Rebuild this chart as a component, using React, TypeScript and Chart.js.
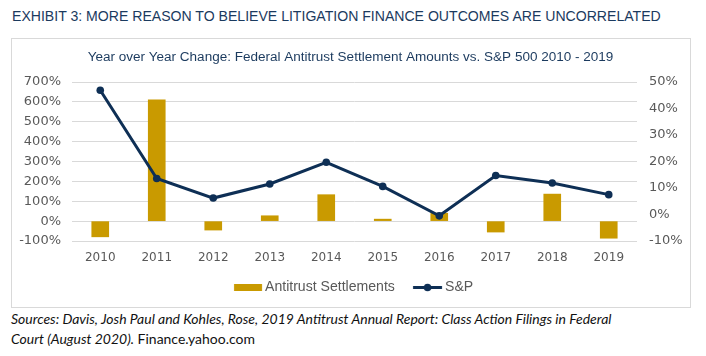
import React, { useEffect, useMemo, useRef } from "react";
import { Chart, registerables } from "chart.js";

Chart.register(...registerables);

// ---------------- data ----------------
const years = ["2010", "2011", "2012", "2013", "2014", "2015", "2016", "2017", "2018", "2019"];
const antitrustSettlements = [-79, 610, -45, 27, 133, 10, 40, -55, 136, -86];
const sp500 = [46.9, 13.6, 6.2, 11.5, 19.7, 10.6, -0.5, 14.7, 11.9, 7.5];
const leftAxisTicks = [-100, 0, 100, 200, 300, 400, 500, 600, 700];
const rightAxisTicks = [-10, 0, 10, 20, 30, 40, 50];
const seriesNames = ["Antitrust Settlements", "S&P"];
const headerText = "EXHIBIT 3: MORE REASON TO BELIEVE LITIGATION FINANCE OUTCOMES ARE UNCORRELATED";
const chartTitle = "Year over Year Change: Federal Antitrust Settlement Amounts vs. S&P 500 2010 - 2019";
const sourceLine1 = "Sources: Davis, Josh Paul and Kohles, Rose, 2019 Antitrust Annual Report: Class Action Filings in Federal";
const sourceLine2Italic = "Court (August 2020).";
const sourceLine2Plain = " Finance.yahoo.com";

// ---------------- styles ----------------
const GOLD = "#C99A00";
const NAVY = "#0E2F55";
const HEAD = "#1B3A5E";
const GREY = "#595959";
const GRID = "#D9D9D9";
const SANS = '"Liberation Sans", Arial, sans-serif';
const TICKF = '"DejaVu Sans", sans-serif';
const SRCF = 'Lato, "Open Sans", sans-serif';

const CW = 679;
const CH = 269;

let mctx: CanvasRenderingContext2D | null = null;
function ctx2d() {
  if (!mctx) mctx = document.createElement("canvas").getContext("2d");
  return mctx!;
}
function measure(text: string, font: string) {
  const c = ctx2d();
  c.font = font;
  return c.measureText(text);
}
function fitSize(text: string, family: string, target: number, style = "normal", weight = "normal") {
  const m = measure(text, `${style} ${weight} 100px ${family}`);
  return (100 * target) / m.width;
}

function PlacedText(props: {
  x: number;
  baseline: number;
  size: number;
  family: string;
  color: string;
  italic?: boolean;
  children: React.ReactNode;
}) {
  const { x, baseline, size, family, color, italic, children } = props;
  const m = measure("Hg", `${italic ? "italic" : "normal"} normal ${size}px ${family}`);
  const A = m.fontBoundingBoxAscent;
  const D = m.fontBoundingBoxDescent;
  return (
    <div
      style={{
        position: "absolute",
        left: x,
        top: baseline - A,
        fontFamily: family,
        fontSize: size,
        fontStyle: italic ? "italic" : "normal",
        lineHeight: `${A + D}px`,
        color,
        whiteSpace: "nowrap",
      }}
    >
      {children}
    </div>
  );
}

function makeIcon(kind: "bar" | "line", offset: number) {
  const half = Math.ceil(15 + Math.abs(offset) + 1);
  const c = document.createElement("canvas");
  c.width = half * 2;
  c.height = 10;
  const g = c.getContext("2d")!;
  const cx = half + offset;
  if (kind === "bar") {
    g.fillStyle = GOLD;
    g.fillRect(cx - 14, 2, 28, 7);
  } else {
    g.strokeStyle = NAVY;
    g.lineWidth = 3;
    g.beginPath();
    g.moveTo(cx - 14.5, 5.5);
    g.lineTo(cx + 14.5, 5.5);
    g.stroke();
    g.fillStyle = NAVY;
    g.beginPath();
    g.arc(cx, 5.5, 3.8, 0, Math.PI * 2);
    g.fill();
  }
  return c;
}

function ChartCanvas() {
  const ref = useRef<HTMLCanvasElement>(null);
  useEffect(() => {
    if (!ref.current) return;
    const titleSize = fitSize(chartTitle, SANS, 526);
    const titlePadTop = 19 - 0.6 * titleSize;
    const titlePadBottom = 44 - titlePadTop - 1.2 * titleSize;

    const legendFs = fitSize(seriesNames[0], SANS, 130);
    const T1 = measure(seriesNames[0], `normal normal ${legendFs}px ${SANS}`).width;
    const T2 = measure(seriesNames[1], `normal normal ${legendFs}px ${SANS}`).width;
    const text1X = 254;
    const text2X = 434;
    const P = CW - 2 * text1X - T1 - T2;
    const W = text2X - text1X - T1 - legendFs / 2 - P;
    const iconOffset = W / 2 + legendFs / 2 - 17;
    const barIcon = makeIcon("bar", iconOffset);
    const lineIcon = makeIcon("line", iconOffset - 0.5);

    const legendCenterY = 249;
    const xAxisH = legendCenterY - P - legendFs / 2 - 203;
    const legendH = legendFs + P + 10;
    const padBottom = CH - 203 - xAxisH - legendH;

    const chart = new Chart(ref.current, {
      type: "bar",
      data: {
        labels: years,
        datasets: [
          {
            type: "bar",
            label: seriesNames[0],
            data: antitrustSettlements,
            backgroundColor: GOLD,
            barThickness: 17,
            yAxisID: "y",
            order: 1,
          },
          {
            type: "line",
            label: seriesNames[1],
            data: sp500,
            borderColor: NAVY,
            backgroundColor: NAVY,
            borderWidth: 3,
            pointRadius: 3.8,
            pointBackgroundColor: NAVY,
            pointBorderColor: NAVY,
            pointBorderWidth: 0,
            tension: 0,
            yAxisID: "y1",
            order: 0,
          } as any,
        ],
      },
      options: {
        responsive: false,
        animation: false,
        devicePixelRatio: 1,
        events: [],
        layout: { padding: { left: 0, right: 0, top: 0, bottom: padBottom } },
        plugins: {
          title: {
            display: true,
            text: chartTitle,
            color: HEAD,
            font: { family: SANS, size: titleSize, weight: "normal" as any, lineHeight: 1.2 },
            padding: { top: titlePadTop, bottom: titlePadBottom },
          },
          legend: {
            display: true,
            position: "bottom",
            labels: {
              usePointStyle: true,
              pointStyleWidth: W,
              boxHeight: legendFs,
              padding: P,
              color: GREY,
              font: { family: SANS, size: legendFs },
              generateLabels: () => [
                {
                  text: seriesNames[0],
                  pointStyle: barIcon as any,
                  fillStyle: GOLD,
                  strokeStyle: GOLD,
                  lineWidth: 0,
                  hidden: false,
                  datasetIndex: 0,
                  fontColor: GREY,
                },
                {
                  text: seriesNames[1],
                  pointStyle: lineIcon as any,
                  fillStyle: NAVY,
                  strokeStyle: NAVY,
                  lineWidth: 0,
                  hidden: false,
                  datasetIndex: 1,
                  fontColor: GREY,
                },
              ],
            },
          },
          tooltip: { enabled: false },
        },
        scales: {
          x: {
            grid: { display: false, drawTicks: false },
            border: { display: false },
            ticks: { color: GREY, font: { family: TICKF, size: 12 }, padding: 10 },
            afterFit: (s: any) => {
              s.height = xAxisH;
            },
          },
          y: {
            position: "left",
            min: leftAxisTicks[0],
            max: leftAxisTicks[leftAxisTicks.length - 1],
            ticks: {
              stepSize: leftAxisTicks[1] - leftAxisTicks[0],
              callback: (v: any) => `${v}%`,
              color: GREY,
              font: { family: TICKF, size: 13 },
              padding: 11,
            },
            grid: { color: GRID, lineWidth: 1, drawTicks: false },
            border: { display: false },
            afterFit: (s: any) => {
              s.width = 61;
            },
          },
          y1: {
            position: "right",
            min: rightAxisTicks[0],
            max: rightAxisTicks[rightAxisTicks.length - 1],
            ticks: {
              stepSize: rightAxisTicks[1] - rightAxisTicks[0],
              callback: (v: any) => `${v}%`,
              color: GREY,
              font: { family: TICKF, size: 13 },
              padding: 12,
            },
            grid: { display: false, drawTicks: false },
            border: { display: false },
            afterFit: (s: any) => {
              s.width = CW - 626;
            },
          },
        },
      },
    });
    return () => chart.destroy();
  }, []);
  return (
    <canvas
      ref={ref}
      width={CW}
      height={CH}
      style={{ position: "absolute", left: 11, top: 38, width: CW, height: CH }}
    />
  );
}

export default function App() {
  const sizes = useMemo(() => {
    return {
      header: fitSize(headerText, SANS, 651),
      source: fitSize(sourceLine1, SRCF, 602, "italic"),
    };
  }, []);
  return (
    <div
      style={{
        position: "absolute",
        left: 0,
        top: 0,
        width: 706,
        height: 356,
        background: "#ffffff",
        overflow: "hidden",
      }}
    >
      <PlacedText x={12} baseline={20.7} size={sizes.header} family={SANS} color={HEAD}>
        {headerText}
      </PlacedText>
      <div
        style={{
          position: "absolute",
          left: 10.5,
          top: 37.5,
          width: 680,
          height: 270.5,
          boxSizing: "border-box",
          border: `1.5px solid ${GRID}`,
        }}
      />
      <ChartCanvas />
      <PlacedText x={11} baseline={324} size={sizes.source} family={SRCF} color="#111111" italic>
        {sourceLine1}
      </PlacedText>
      <PlacedText x={11} baseline={344} size={sizes.source} family={SRCF} color="#111111">
        <span style={{ fontStyle: "italic" }}>{sourceLine2Italic}</span>
        <span>{sourceLine2Plain}</span>
      </PlacedText>
    </div>
  );
}
